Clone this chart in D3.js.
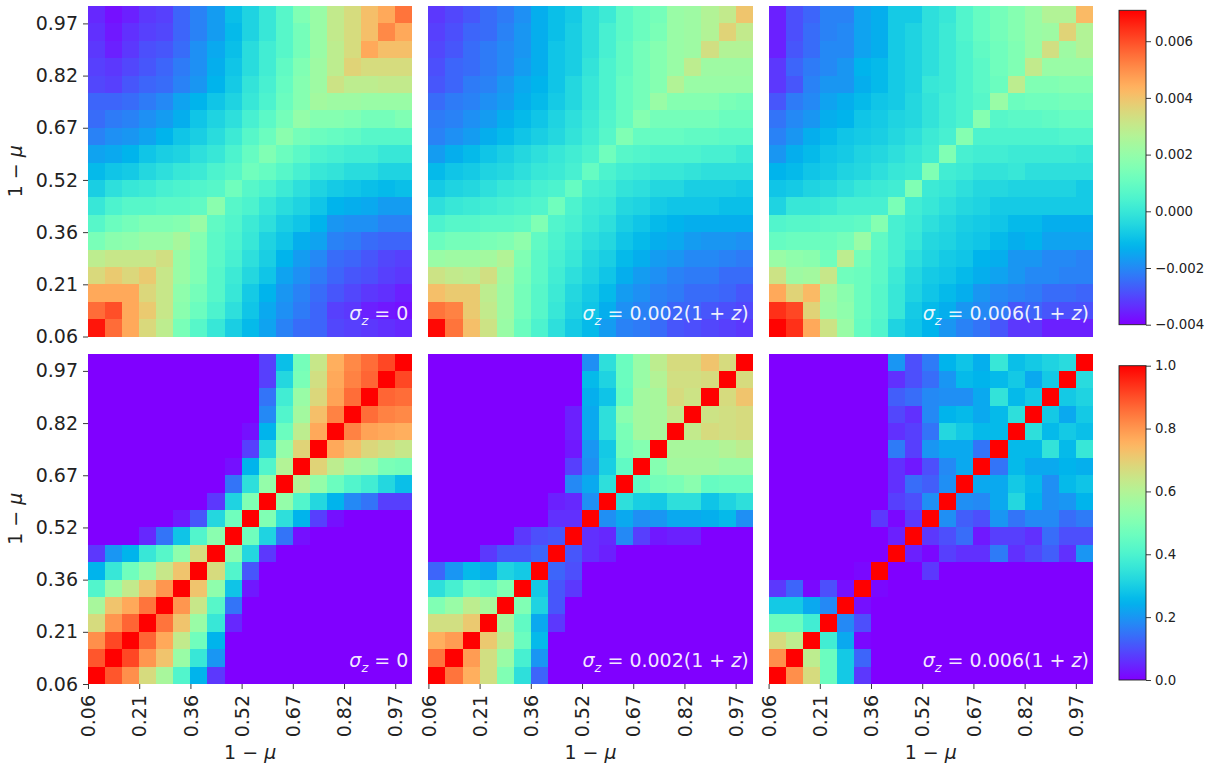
<!DOCTYPE html>
<html>
<head>
<meta charset="utf-8">
<script src="https://cdn.jsdelivr.net/npm/d3@7"></script>
<style>
  body { margin: 0; background: #fff; }
  svg { display: block; }
  text { font-family: "DejaVu Sans", sans-serif; }
</style>
</head>
<body>
<svg id="chart" width="1218" height="768"></svg>
<script>
// bins of 1 - mu, ticks sit on the lower edge of every 3rd bin
const nBins = 19;
const muTickBins = [0, 3, 6, 9, 12, 15, 18];
const muTickLabels = ['0.06', '0.21', '0.36', '0.52', '0.67', '0.82', '0.97'];
const sigmaLabels = ['0', '0.002(1 + z)', '0.006(1 + z)'];

const covUnit = 1e-3;
const covRange = [-0.004, 0.00709];
const covTicks = [-0.004, -0.002, 0, 0.002, 0.004, 0.006];
const corrRange = [0, 1];
const corrTicks = [0, 0.2, 0.4, 0.6, 0.8, 1.0];

// covariance, lower triangle (row r holds bins 0..r), in units of 1e-3
const covSigma0 = [
  [6.80],
  [5.54, 5.98],
  [4.54, 4.54, 4.54],
  [3.50, 3.87, 3.54, 3.87],
  [2.88, 3.10, 3.10, 3.10, 3.32],
  [1.40, 1.77, 1.88, 2.10, 2.10, 2.43],
  [0.66, 1.10, 1.32, 1.55, 1.55, 1.66, 2.10],
  [-0.01, 0.44, 0.66, 0.66, 0.77, 0.77, 0.88, 1.77],
  [-0.67, -0.23, -0.01, 0.10, 0.33, 0.44, 0.55, 0.66, 1.21],
  [-1.12, -0.89, -0.78, -0.45, -0.23, -0.01, 0.10, 0.44, 0.66, 1.21],
  [-1.56, -1.45, -1.23, -0.89, -0.67, -0.56, -0.23, -0.01, 0.44, 0.99, 1.55],
  [-2.11, -1.89, -1.78, -1.56, -1.23, -0.89, -0.67, -0.34, 0.10, 0.66, 1.10, 1.77],
  [-2.45, -2.23, -2.11, -1.89, -1.67, -1.34, -0.89, -0.56, -0.23, 0.33, 0.77, 1.32, 1.99],
  [-2.56, -2.56, -2.45, -2.23, -2.00, -1.56, -1.23, -0.89, -0.56, -0.01, 0.44, 1.10, 1.66, 2.32],
  [-3.00, -3.11, -2.78, -2.56, -2.45, -2.11, -1.78, -1.23, -0.78, -0.12, 0.33, 0.99, 1.66, 2.21, 3.21],
  [-3.11, -3.22, -3.00, -2.78, -2.56, -2.23, -1.89, -1.34, -0.89, -0.34, 0.21, 0.88, 1.55, 2.21, 2.88, 3.65],
  [-3.22, -3.56, -3.22, -2.89, -2.78, -2.45, -1.89, -1.45, -1.01, -0.34, 0.21, 0.66, 1.32, 2.10, 2.88, 3.43, 4.54],
  [-3.33, -3.67, -3.33, -3.11, -3.00, -2.56, -2.11, -1.67, -1.12, -0.56, -0.01, 0.66, 1.32, 2.10, 2.99, 3.43, 4.10, 5.09],
  [-3.45, -3.78, -3.56, -3.22, -3.11, -2.56, -2.11, -1.67, -1.01, -0.56, -0.01, 0.66, 1.55, 2.10, 2.99, 3.43, 4.10, 4.54, 5.43]
];

const covSigma002 = [
  [6.98],
  [5.43, 5.20],
  [4.10, 3.87, 3.87],
  [3.21, 2.99, 2.88, 3.32],
  [2.10, 2.21, 2.21, 2.32, 2.65],
  [1.10, 1.32, 1.32, 1.43, 1.55, 1.88],
  [0.44, 0.66, 0.66, 0.77, 0.77, 0.88, 1.55],
  [-0.23, -0.01, 0.10, 0.21, 0.33, 0.44, 0.55, 1.21],
  [-0.78, -0.56, -0.45, -0.23, -0.01, 0.10, 0.33, 0.44, 0.99],
  [-1.12, -0.89, -0.78, -0.56, -0.45, -0.23, -0.01, 0.10, 0.33, 0.99],
  [-1.67, -1.34, -1.12, -0.89, -0.67, -0.45, -0.23, -0.01, 0.21, 0.44, 1.21],
  [-2.11, -1.89, -1.67, -1.34, -1.12, -0.89, -0.67, -0.45, -0.12, 0.21, 0.66, 1.55],
  [-2.23, -2.11, -1.89, -1.67, -1.34, -1.12, -0.89, -0.56, -0.23, 0.10, 0.55, 0.99, 1.66],
  [-2.45, -2.23, -2.11, -1.89, -1.67, -1.34, -1.12, -0.78, -0.45, -0.01, 0.44, 0.99, 1.32, 2.10],
  [-2.78, -2.56, -2.23, -2.11, -1.78, -1.45, -1.23, -0.89, -0.45, -0.01, 0.44, 0.99, 1.32, 1.66, 2.65],
  [-2.89, -2.56, -2.45, -2.23, -2.00, -1.67, -1.34, -0.89, -0.67, -0.12, 0.44, 0.88, 1.32, 1.66, 2.10, 2.88],
  [-3.00, -2.78, -2.45, -2.23, -2.00, -1.78, -1.34, -0.89, -0.67, -0.23, 0.33, 0.88, 1.32, 1.66, 2.10, 2.21, 3.32],
  [-3.11, -2.89, -2.56, -2.45, -2.11, -1.78, -1.34, -1.01, -0.67, -0.23, 0.33, 0.77, 1.10, 1.43, 2.10, 2.21, 2.65, 3.65],
  [-3.22, -3.00, -2.78, -2.45, -2.23, -1.89, -1.34, -1.01, -0.78, -0.23, 0.10, 0.77, 1.10, 1.32, 2.10, 2.21, 2.65, 2.99, 3.98]
];

const covSigma006 = [
  [7.05],
  [6.42, 6.09],
  [4.54, 3.65, 4.21],
  [3.21, 2.21, 2.32, 3.10],
  [2.10, 1.88, 1.77, 1.21, 2.88],
  [0.99, 1.10, 1.10, 1.10, 1.32, 2.10],
  [0.55, 0.66, 0.66, 0.77, 0.77, 0.88, 1.66],
  [-0.56, -0.01, -0.01, 0.10, 0.33, 0.33, 0.33, 1.43],
  [-0.89, -0.78, -0.56, -0.45, -0.23, -0.01, 0.10, 0.21, 1.55],
  [-1.23, -1.12, -0.89, -0.78, -0.56, -0.45, -0.23, -0.01, 0.10, 1.55],
  [-1.78, -1.34, -1.12, -0.89, -0.78, -0.56, -0.45, -0.23, -0.01, 0.21, 1.55],
  [-2.11, -1.78, -1.34, -1.12, -0.89, -0.78, -0.67, -0.45, -0.23, 0.10, 0.33, 1.66],
  [-2.34, -2.00, -1.78, -1.34, -1.23, -0.89, -0.78, -0.56, -0.45, -0.12, 0.21, 0.44, 1.66],
  [-2.78, -2.23, -2.00, -1.56, -1.34, -1.12, -0.89, -0.78, -0.45, -0.12, 0.21, 0.44, 0.66, 2.10],
  [-3.22, -2.78, -2.11, -1.78, -1.78, -1.34, -1.12, -0.78, -0.56, -0.01, 0.10, 0.44, 0.77, 1.10, 2.88],
  [-3.22, -2.56, -2.23, -2.00, -1.78, -1.23, -1.12, -0.78, -0.56, -0.23, 0.10, 0.44, 0.77, 1.21, 1.55, 2.99],
  [-3.56, -2.78, -2.45, -2.00, -2.00, -1.56, -1.34, -0.78, -0.56, -0.23, 0.10, 0.44, 0.88, 1.21, 1.55, 2.10, 3.32],
  [-3.56, -2.89, -2.45, -2.11, -2.00, -1.56, -1.34, -0.78, -0.56, -0.23, 0.10, 0.55, 0.99, 1.32, 1.66, 2.10, 2.21, 3.65],
  [-3.56, -2.89, -2.56, -2.11, -2.11, -1.56, -1.34, -0.78, -0.78, -0.23, -0.01, 0.55, 0.99, 1.32, 1.66, 2.10, 2.65, 2.65, 4.21]
];

// correlation coefficients, lower triangle
const corrSigma0 = [
  [1],
  [0.89, 1],
  [0.81, 0.91, 1],
  [0.67, 0.80, 0.87, 1],
  [0.58, 0.72, 0.77, 0.85, 1],
  [0.41, 0.55, 0.63, 0.72, 0.80, 1],
  [0.25, 0.36, 0.47, 0.55, 0.64, 0.72, 1],
  [0.07, 0.20, 0.25, 0.36, 0.42, 0.53, 0.67, 1],
  [0, 0, 0, 0.05, 0.15, 0.28, 0.41, 0.52, 1],
  [0, 0, 0, 0, 0, 0.03, 0.11, 0.32, 0.47, 1],
  [0, 0, 0, 0, 0, 0, 0, 0.07, 0.31, 0.50, 1],
  [0, 0, 0, 0, 0, 0, 0, 0, 0.15, 0.34, 0.54, 1],
  [0, 0, 0, 0, 0, 0, 0, 0, 0.02, 0.25, 0.41, 0.60, 1],
  [0, 0, 0, 0, 0, 0, 0, 0, 0, 0.08, 0.32, 0.54, 0.69, 1],
  [0, 0, 0, 0, 0, 0, 0, 0, 0, 0.02, 0.25, 0.46, 0.62, 0.77, 1],
  [0, 0, 0, 0, 0, 0, 0, 0, 0, 0, 0.18, 0.41, 0.57, 0.73, 0.83, 1],
  [0, 0, 0, 0, 0, 0, 0, 0, 0, 0, 0.15, 0.38, 0.55, 0.68, 0.78, 0.86, 1],
  [0, 0, 0, 0, 0, 0, 0, 0, 0, 0, 0.08, 0.32, 0.49, 0.66, 0.77, 0.83, 0.87, 1],
  [0, 0, 0, 0, 0, 0, 0, 0, 0, 0, 0.08, 0.27, 0.48, 0.64, 0.76, 0.82, 0.86, 0.91, 1]
];

const corrSigma002 = [
  [1],
  [0.85, 1],
  [0.76, 0.79, 1],
  [0.66, 0.66, 0.71, 1],
  [0.50, 0.55, 0.62, 0.58, 1],
  [0.34, 0.39, 0.46, 0.44, 0.50, 1],
  [0.13, 0.20, 0.26, 0.23, 0.31, 0.29, 1],
  [0, 0, 0, 0.07, 0.11, 0.11, 0.13, 1],
  [0, 0, 0, 0, 0, 0.07, 0.10, 0.11, 1],
  [0, 0, 0, 0, 0, 0, 0, 0.06, 0.06, 1],
  [0, 0, 0, 0, 0, 0, 0, 0.04, 0.05, 0.19, 1],
  [0, 0, 0, 0, 0, 0, 0, 0, 0.18, 0.23, 0.34, 1],
  [0, 0, 0, 0, 0, 0, 0, 0, 0.08, 0.19, 0.30, 0.44, 1],
  [0, 0, 0, 0, 0, 0, 0, 0, 0.03, 0.20, 0.29, 0.48, 0.51, 1],
  [0, 0, 0, 0, 0, 0, 0, 0, 0.04, 0.23, 0.34, 0.49, 0.57, 0.58, 1],
  [0, 0, 0, 0, 0, 0, 0, 0, 0.04, 0.23, 0.34, 0.52, 0.57, 0.58, 0.63, 1],
  [0, 0, 0, 0, 0, 0, 0, 0, 0, 0.24, 0.28, 0.45, 0.57, 0.58, 0.67, 0.65, 1],
  [0, 0, 0, 0, 0, 0, 0, 0, 0, 0.26, 0.31, 0.46, 0.55, 0.60, 0.66, 0.66, 0.67, 1],
  [0, 0, 0, 0, 0, 0, 0, 0, 0, 0.19, 0.34, 0.46, 0.55, 0.62, 0.67, 0.67, 0.72, 0.67, 1]
];

const corrSigma006 = [
  [1],
  [0.81, 1],
  [0.67, 0.62, 1],
  [0.46, 0.46, 0.38, 1],
  [0.29, 0.29, 0.23, 0.18, 1],
  [0.07, 0.13, 0.01, 0.10, 0.02, 1],
  [0, 0, 0, 0, 0, 0.01, 1],
  [0, 0, 0, 0, 0, 0, 0, 1],
  [0, 0, 0, 0, 0, 0, 0, 0.04, 1],
  [0, 0, 0, 0, 0, 0, 0.07, 0.01, 0.07, 1],
  [0, 0, 0, 0, 0, 0, 0, 0.08, 0.10, 0.19, 1],
  [0, 0, 0, 0, 0, 0, 0, 0.06, 0.14, 0.12, 0.19, 1],
  [0, 0, 0, 0, 0, 0, 0, 0.06, 0.03, 0.10, 0.18, 0.23, 1],
  [0, 0, 0, 0, 0, 0, 0, 0.16, 0.08, 0.20, 0.23, 0.23, 0.15, 1],
  [0, 0, 0, 0, 0, 0, 0, 0.06, 0.08, 0.15, 0.32, 0.29, 0.26, 0.26, 1],
  [0, 0, 0, 0, 0, 0, 0, 0.09, 0.06, 0.18, 0.25, 0.26, 0.23, 0.26, 0.34, 1],
  [0, 0, 0, 0, 0, 0, 0, 0.12, 0.14, 0.18, 0.19, 0.19, 0.23, 0.35, 0.26, 0.29, 1],
  [0, 0, 0, 0, 0, 0, 0, 0.06, 0.10, 0.14, 0.20, 0.26, 0.25, 0.26, 0.29, 0.23, 0.29, 1],
  [0, 0, 0, 0, 0, 0, 0, 0.20, 0.10, 0.16, 0.25, 0.28, 0.24, 0.36, 0.27, 0.29, 0.31, 0.33, 1]
];

// matplotlib "rainbow" colormap
function rainbow(t) {
  t = Math.max(0, Math.min(1, t));
  const r = Math.min(1, Math.abs(2 * t - 0.5));
  const g = Math.sin(Math.PI * t);
  const b = Math.cos(Math.PI * t / 2);
  return d3.rgb(r * 255, g * 255, b * 255).formatHex();
}

// symmetric matrix from its lower triangle
function fullMatrix(tri) {
  return d3.range(nBins).map(r => d3.range(nBins).map(c => (c <= r ? tri[r][c] : tri[c][r])));
}

const panelX = [88, 428.4, 768.6];
const panelY = [6, 353.5];
const panelW = 324.3;
const panelH = 330.5;
const cbar = { x: 1119, w: 27, y: [[10.3, 324.7], [365.7, 680]] };
const tickFont = 19;

const svg = d3.select('#chart');

const covColor = d3.scaleSequential(rainbow).domain(covRange).clamp(true);
const corrColor = d3.scaleSequential(rainbow).domain(corrRange).clamp(true);

const panels = [
  { row: 0, col: 0, tri: covSigma0, unit: covUnit, color: covColor },
  { row: 0, col: 1, tri: covSigma002, unit: covUnit, color: covColor },
  { row: 0, col: 2, tri: covSigma006, unit: covUnit, color: covColor },
  { row: 1, col: 0, tri: corrSigma0, unit: 1, color: corrColor },
  { row: 1, col: 1, tri: corrSigma002, unit: 1, color: corrColor },
  { row: 1, col: 2, tri: corrSigma006, unit: 1, color: corrColor }
];

const x = d3.scaleBand().domain(d3.range(nBins)).range([0, panelW]);
const y = d3.scaleBand().domain(d3.range(nBins)).range([panelH, 0]);
// edge positions for the ticks
const xEdge = d3.scaleLinear().domain([0, nBins]).range([0, panelW]);
const yEdge = d3.scaleLinear().domain([0, nBins]).range([panelH, 0]);

panels.forEach(p => {
  const g = svg.append('g').attr('transform', `translate(${panelX[p.col]},${panelY[p.row]})`);
  const cells = [];
  fullMatrix(p.tri).forEach((rowVals, r) => rowVals.forEach((v, c) => cells.push({ r, c, v })));

  g.append('g')
    .selectAll('rect')
    .data(cells)
    .join('rect')
    .attr('x', d => x(d.c))
    .attr('y', d => y(d.r))
    .attr('width', x.bandwidth())
    .attr('height', y.bandwidth())
    .attr('shape-rendering', 'crispEdges')
    .attr('fill', d => p.color(d.v * p.unit));

  // y axis on the left column only
  if (p.col === 0) {
    const ax = g.append('g')
      .call(d3.axisLeft(yEdge).tickValues(muTickBins).tickFormat((d, i) => muTickLabels[i]).tickSize(5).tickPadding(5));
    ax.select('.domain').remove();
    ax.selectAll('line').attr('stroke', '#222').attr('stroke-width', 0.9);
    ax.selectAll('text').attr('font-size', tickFont).attr('fill', '#222').attr('font-family', '"DejaVu Sans", sans-serif');

    const yl = g.append('text')
      .attr('transform', `translate(${22 - panelX[0]},${panelH / 2}) rotate(-90)`)
      .attr('text-anchor', 'middle')
      .attr('font-size', tickFont)
      .attr('fill', '#222');
    yl.append('tspan').text('1 − ');
    yl.append('tspan').attr('font-style', 'italic').text('μ');
  }

  // x axis on the bottom row only
  if (p.row === 1) {
    const ax = g.append('g')
      .attr('transform', `translate(0,${panelH})`)
      .call(d3.axisBottom(xEdge).tickValues(muTickBins).tickFormat((d, i) => muTickLabels[i]).tickSize(5).tickPadding(5));
    ax.select('.domain').remove();
    ax.selectAll('line').attr('stroke', '#222').attr('stroke-width', 0.9);
    ax.selectAll('text')
      .attr('font-size', tickFont)
      .attr('fill', '#222')
      .attr('font-family', '"DejaVu Sans", sans-serif')
      .attr('transform', 'rotate(-90)')
      .attr('text-anchor', 'end')
      .attr('x', -11)
      .attr('y', 0)
      .attr('dy', '0.35em');

    const xl = g.append('text')
      .attr('x', panelW / 2)
      .attr('y', 759 - panelY[1])
      .attr('text-anchor', 'middle')
      .attr('font-size', tickFont)
      .attr('fill', '#222');
    xl.append('tspan').text('1 − ');
    xl.append('tspan').attr('font-style', 'italic').text('μ');
  }

  // sigma_z label
  const ann = g.append('text')
    .attr('x', panelW - 4)
    .attr('y', panelH - 17)
    .attr('text-anchor', 'end')
    .attr('font-size', 19)
    .attr('fill', '#fff')
    .attr('fill-opacity', 0.92);
  ann.append('tspan').attr('font-style', 'italic').text('σ');
  ann.append('tspan').attr('font-style', 'italic').attr('font-size', 13).attr('dy', 5).text('z');
  const parts = sigmaLabels[p.col].split('z');
  ann.append('tspan').attr('dy', -5).text(' = ' + parts[0]);
  if (parts.length > 1) {
    ann.append('tspan').attr('font-style', 'italic').text('z');
    ann.append('tspan').text(parts[1]);
  }
});

// colorbars
const grad = svg.append('defs').append('linearGradient')
  .attr('id', 'rainbowGrad')
  .attr('x1', 0).attr('y1', 1).attr('x2', 0).attr('y2', 0);
grad.selectAll('stop')
  .data(d3.range(0, 1.0001, 0.02))
  .join('stop')
  .attr('offset', d => d)
  .attr('stop-color', d => rainbow(d));

const cbars = [
  { range: covRange, ticks: covTicks, fmt: d3.format('.3f'), y: cbar.y[0] },
  { range: corrRange, ticks: corrTicks, fmt: d3.format('.1f'), y: cbar.y[1] }
];

cbars.forEach(cb => {
  const g = svg.append('g');
  g.append('rect')
    .attr('x', cbar.x)
    .attr('y', cb.y[0])
    .attr('width', cbar.w)
    .attr('height', cb.y[1] - cb.y[0])
    .attr('fill', 'url(#rainbowGrad)')
    .attr('stroke', '#222')
    .attr('stroke-width', 0.9);
  const s = d3.scaleLinear().domain(cb.range).range([cb.y[1], cb.y[0]]);
  const ax = g.append('g')
    .attr('transform', `translate(${cbar.x + cbar.w},0)`)
    .call(d3.axisRight(s).tickValues(cb.ticks).tickFormat(cb.fmt).tickSize(5).tickPadding(4));
  ax.select('.domain').remove();
  ax.selectAll('line').attr('stroke', '#222').attr('stroke-width', 0.9);
  ax.selectAll('text').attr('font-size', 13.3).attr('fill', '#222').attr('font-family', '"DejaVu Sans", sans-serif');
});
</script>
</body>
</html>
